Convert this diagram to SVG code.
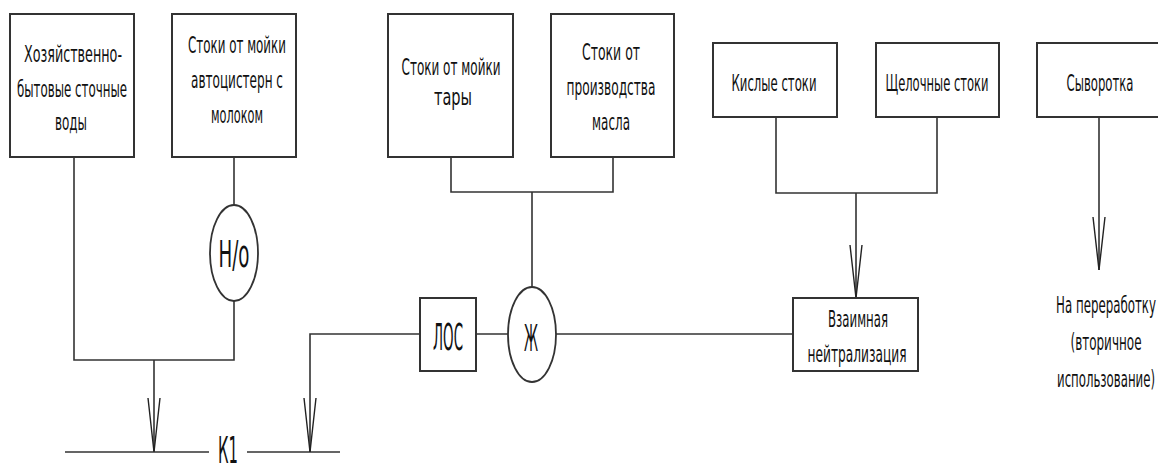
<svg xmlns="http://www.w3.org/2000/svg" width="1158" height="464" viewBox="0 0 1158 464">
<style>
.box{fill:#fff;stroke:#333;stroke-width:2}
.ell{fill:#fff;stroke:#333;stroke-width:1.8}
.ln{fill:none;stroke:#333;stroke-width:1.6}
.arr{fill:none;stroke:#222;stroke-width:1.4}
.t{font-family:"Liberation Sans Narrow","DejaVu Sans Condensed","Liberation Sans",sans-serif;font-size:23px;fill:#111;text-anchor:middle}
.big{font-family:"Liberation Sans Narrow","DejaVu Sans Condensed","Liberation Sans",sans-serif;font-size:37px;fill:#111;text-anchor:middle}
</style>
<rect width="1158" height="464" fill="#fff"/>
<g id="connectors">
<path class="ln" d="M74,157 V360 H234 V301"/>
<path class="ln" d="M234,157 V205"/>
<path class="ln" d="M154,360 V452"/>
<path class="arr" d="M148,398 L154,452 L160,398"/>
<path class="ln" d="M65,452 H209 M247,452 H340"/>
<path class="ln" d="M420,334 H310 V452"/>
<path class="arr" d="M304,398 L310,452 L316,398"/>
<path class="ln" d="M476,334 H508 M556,334 H793"/>
<path class="ln" d="M451,157 V192 H613 V157 M532,192 V287"/>
<path class="ln" d="M776,117 V193 H937 V117 M856,193 V298"/>
<path class="arr" d="M850,245 L856,298 L862,245"/>
<path class="ln" d="M1099,117 V270"/>
<path class="arr" d="M1093,217 L1099,270 L1105,217"/>
</g>
<g id="n1">
<rect class="box" x="10" y="14" width="124" height="143"/>
<text class="t" x="73" y="62" textLength="98" lengthAdjust="spacingAndGlyphs">Хозяйственно-</text>
<text class="t" x="72" y="97" textLength="110" lengthAdjust="spacingAndGlyphs">бытовые сточные</text>
<text class="t" x="71" y="130" textLength="32" lengthAdjust="spacingAndGlyphs">воды</text>
</g>
<g id="n2">
<rect class="box" x="172" y="14" width="124" height="143"/>
<text class="t" x="237" y="53" textLength="98" lengthAdjust="spacingAndGlyphs">Стоки от мойки</text>
<text class="t" x="237" y="88" textLength="92" lengthAdjust="spacingAndGlyphs">автоцистерн с</text>
<text class="t" x="237" y="123" textLength="52" lengthAdjust="spacingAndGlyphs">молоком</text>
</g>
<g id="n3">
<rect class="box" x="388" y="14" width="125" height="143"/>
<text class="t" x="451" y="75" textLength="99" lengthAdjust="spacingAndGlyphs">Стоки от мойки</text>
<text class="t" x="453" y="105" textLength="38" lengthAdjust="spacingAndGlyphs">тары</text>
</g>
<g id="n4">
<rect class="box" x="551" y="14" width="123" height="143"/>
<text class="t" x="611" y="60" textLength="58" lengthAdjust="spacingAndGlyphs">Стоки от</text>
<text class="t" x="611" y="95" textLength="89" lengthAdjust="spacingAndGlyphs">производства</text>
<text class="t" x="611" y="130" textLength="38" lengthAdjust="spacingAndGlyphs">масла</text>
</g>
<g id="n5">
<rect class="box" x="713" y="43" width="124" height="74"/>
<text class="t" x="774" y="91" textLength="85" lengthAdjust="spacingAndGlyphs">Кислые стоки</text>
</g>
<g id="n6">
<rect class="box" x="876" y="43" width="123" height="74"/>
<text class="t" x="937" y="91" textLength="103" lengthAdjust="spacingAndGlyphs">Щелочные стоки</text>
</g>
<g id="n7">
<rect class="box" x="1037" y="43" width="140" height="74"/>
<text class="t" x="1100" y="91" textLength="67" lengthAdjust="spacingAndGlyphs">Сыворотка</text>
</g>
<g id="n8">
<ellipse class="ell" cx="234" cy="253" rx="24" ry="48"/>
<text class="big" x="234" y="267" textLength="31" lengthAdjust="spacingAndGlyphs">Н/о</text>
</g>
<g id="n9">
<rect class="box" x="420" y="298" width="56" height="73"/>
<text class="big" x="448" y="350" textLength="30" lengthAdjust="spacingAndGlyphs">ЛОС</text>
</g>
<g id="n10">
<ellipse class="ell" cx="532" cy="334.5" rx="24" ry="47.5"/>
<text class="big" x="531" y="351" textLength="14" lengthAdjust="spacingAndGlyphs">Ж</text>
</g>
<g id="n11">
<rect class="box" x="793" y="298" width="125" height="73"/>
<text class="t" x="858" y="327" textLength="60" lengthAdjust="spacingAndGlyphs">Взаимная</text>
<text class="t" x="857" y="362" textLength="99" lengthAdjust="spacingAndGlyphs">нейтрализация</text>
</g>
<g id="n12">
<text class="t" x="1106" y="313" textLength="100" lengthAdjust="spacingAndGlyphs">На переработку</text>
<text class="t" x="1106" y="350" textLength="71" lengthAdjust="spacingAndGlyphs">(вторичное</text>
<text class="t" x="1106" y="387" textLength="98" lengthAdjust="spacingAndGlyphs">использование)</text>
</g>
<g id="n13">
<text class="big" x="228" y="463" font-size="33" textLength="20" lengthAdjust="spacingAndGlyphs">К1</text>
</g>
</svg>
